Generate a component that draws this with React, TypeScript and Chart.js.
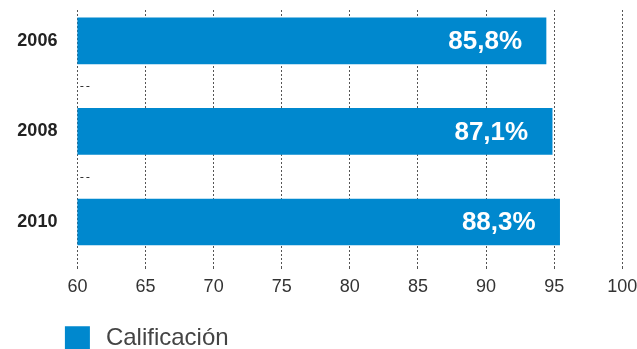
import { useEffect, useRef } from "react";
import { Chart, registerables } from "chart.js";

Chart.register(...registerables);

// ---- data ----
const categories = ["2006", "2008", "2010"];
const barValues = [94.4, 94.85, 95.4];
const valueLabels = ["85,8%", "87,1%", "88,3%"];
const seriesName = "Calificación";
const xMin = 60;
const xMax = 100;
const xStep = 5;

const BLUE = "#0088ce";
const FONT = "'Liberation Sans', Arial, Helvetica, sans-serif";

const barLabelsPlugin = {
  id: "barLabels",
  afterDatasetsDraw(chart: any) {
    const meta = chart.getDatasetMeta(0);
    const ctx = chart.ctx;
    ctx.save();
    ctx.font = `bold 26px ${FONT}`;
    ctx.fillStyle = "#ffffff";
    ctx.textAlign = "right";
    ctx.textBaseline = "middle";
    meta.data.forEach((bar: any, i: number) => {
      ctx.fillText(valueLabels[i], bar.x - 24, bar.y + 1);
    });
    ctx.restore();
  },
};

const separatorsPlugin = {
  id: "separators",
  afterDraw(chart: any) {
    const ys = chart.scales.y;
    const left = chart.chartArea.left;
    const ctx = chart.ctx;
    ctx.save();
    ctx.strokeStyle = "#333";
    ctx.lineWidth = 1;
    ctx.setLineDash([3, 3]);
    for (let i = 0; i < categories.length - 1; i++) {
      const py = Math.round(ys.getPixelForValue(i + 0.5)) + 0.5;
      ctx.beginPath();
      ctx.moveTo(left + 3, py);
      ctx.lineTo(left + 13, py);
      ctx.stroke();
    }
    ctx.restore();
  },
};

const legendPlugin = {
  id: "customLegend",
  afterDraw(chart: any) {
    const ds = chart.data.datasets[0];
    const ctx = chart.ctx;
    const x0 = chart.chartArea.left - 12.5;
    const yc = chart.chartArea.bottom + 71;
    ctx.save();
    ctx.fillStyle = ds.backgroundColor;
    ctx.fillRect(x0, yc - 12, 25, 25);
    ctx.font = `24px ${FONT}`;
    ctx.fillStyle = "#444";
    ctx.textAlign = "left";
    ctx.textBaseline = "middle";
    ctx.fillText(ds.label, x0 + 41, yc);
    ctx.restore();
  },
};

export default function App() {
  const canvasRef = useRef<HTMLCanvasElement | null>(null);

  useEffect(() => {
    if (!canvasRef.current) return;
    const chart = new Chart(canvasRef.current, {
      type: "bar",
      data: {
        datasets: [
          {
            label: seriesName,
            data: categories.map((_, i) => ({ x: barValues[i], y: i })) as any,
            backgroundColor: BLUE,
            borderWidth: 0,
            barThickness: 46,
          },
        ],
      },
      options: {
        indexAxis: "y",
        animation: false,
        responsive: true,
        maintainAspectRatio: false,
        layout: { padding: { top: 10, left: 0, right: 0, bottom: 0 } },
        plugins: {
          legend: { display: false },
          tooltip: { enabled: false },
        },
        scales: {
          x: {
            type: "linear",
            position: "bottom",
            min: xMin,
            max: xMax,
            ticks: {
              stepSize: xStep,
              padding: 6,
              color: "#333",
              font: { family: FONT, size: 18 },
            },
            grid: {
              color: "#555",
              lineWidth: 1,
              drawTicks: true,
              tickLength: 3,
              tickColor: "#555",
              tickBorderDash: [2, 2],
            },
            border: { display: false, dash: [2, 2] },
            afterFit(scale: any) {
              scale.height = 81.75;
              scale.paddingLeft = 0;
              scale.paddingRight = 14.7;
            },
          },
          y: {
            type: "linear",
            reverse: true,
            offset: false,
            min: -0.34,
            max: 2.5,
            afterBuildTicks(scale: any) {
              scale.ticks = categories.map((_, i) => ({ value: i }));
            },
            ticks: {
              padding: 20,
              color: "#222",
              font: { family: FONT, size: 18, weight: "bold" },
              callback: (v: any) => categories[v as number] ?? "",
            },
            grid: { display: false, drawTicks: false, offset: false },
            border: { display: false },
            afterFit(scale: any) {
              scale.width = 77.4;
              scale.paddingTop = 0;
              scale.paddingBottom = 0;
            },
          },
        },
      },
      plugins: [barLabelsPlugin, separatorsPlugin, legendPlugin],
    });
    return () => chart.destroy();
  }, []);

  return (
    <div
      style={{
        position: "absolute",
        left: 0,
        top: 0,
        width: 637,
        height: 349,
        background: "#fff",
      }}
    >
      <canvas ref={canvasRef} />
    </div>
  );
}
